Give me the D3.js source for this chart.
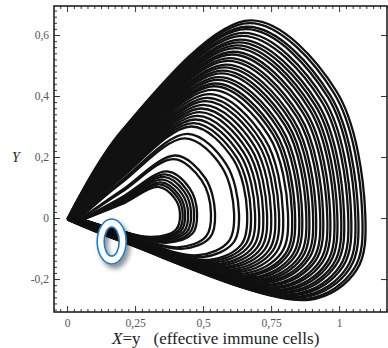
<!DOCTYPE html>
<meta charset="utf-8">
<script src="https://d3js.org/d3.v7.min.js"></script>
<style>
body { margin: 0; background: #fff; }
.axis text { font: 11.5px "Liberation Serif", "DejaVu Serif", serif; fill: #555; }
.axis path { display: none; }
.axis line { stroke: #333; }
.orbit { fill: none; stroke: #111; stroke-width: 2.3; }
</style>
<body>
<script>

// one row per loop of the trajectory (innermost first)
// tip of the loop near the origin
var loopTipX = [0.058,0.057,0.056,0.055,0.055,0.054,0.053,0.048,0.047,0.041,0.040,0.037,0.036,0.035,0.033,0.032,0.031,0.029,0.028,0.027,0.026,0.024,0.023,0.022,0.021,0.020,0.019,0.018,0.016,0.015,0.014,0.013,0.012,0.011,0.010,0.009,0.008,0.007,0.005,0.004,0.003,0.002,0.001,0.000];
// height where the rising branch crosses X = 0.2
var loopUpperY = [0.045,0.049,0.052,0.056,0.059,0.063,0.067,0.085,0.090,0.115,0.122,0.132,0.137,0.142,0.147,0.153,0.158,0.163,0.168,0.173,0.179,0.185,0.190,0.194,0.199,0.203,0.208,0.213,0.217,0.221,0.226,0.230,0.236,0.240,0.245,0.249,0.254,0.257,0.263,0.267,0.272,0.276,0.281,0.285];
// top of each loop
var loopPeakX = [0.335,0.340,0.345,0.350,0.355,0.361,0.367,0.392,0.399,0.434,0.443,0.458,0.465,0.473,0.480,0.488,0.495,0.502,0.510,0.517,0.524,0.533,0.541,0.546,0.554,0.559,0.567,0.572,0.579,0.585,0.592,0.597,0.605,0.611,0.618,0.624,0.630,0.636,0.643,0.649,0.657,0.662,0.670,0.675];
var loopPeakY = [0.102,0.110,0.117,0.126,0.135,0.143,0.153,0.193,0.205,0.261,0.276,0.300,0.311,0.323,0.335,0.347,0.359,0.371,0.383,0.394,0.406,0.420,0.432,0.441,0.453,0.462,0.474,0.483,0.494,0.503,0.515,0.524,0.536,0.545,0.557,0.566,0.576,0.585,0.597,0.607,0.619,0.627,0.639,0.648];
// right-most point (crossing near Y = 0.015)
var loopRightX = [0.415,0.425,0.434,0.445,0.456,0.467,0.478,0.529,0.544,0.614,0.632,0.662,0.676,0.691,0.706,0.721,0.735,0.750,0.765,0.779,0.794,0.812,0.827,0.838,0.853,0.864,0.879,0.890,0.904,0.915,0.930,0.941,0.956,0.967,0.982,0.993,1.007,1.018,1.033,1.044,1.059,1.070,1.085,1.096];
// bottom of each loop
var loopLowX = [0.310,0.319,0.326,0.336,0.345,0.354,0.364,0.407,0.420,0.479,0.495,0.521,0.532,0.545,0.558,0.570,0.583,0.595,0.608,0.620,0.633,0.648,0.661,0.670,0.683,0.692,0.705,0.715,0.726,0.736,0.748,0.758,0.771,0.780,0.793,0.802,0.814,0.823,0.836,0.846,0.859,0.868,0.881,0.890];
var loopLowY = [-0.062,-0.065,-0.068,-0.071,-0.074,-0.078,-0.081,-0.096,-0.101,-0.122,-0.128,-0.137,-0.141,-0.145,-0.150,-0.154,-0.159,-0.163,-0.168,-0.172,-0.177,-0.182,-0.187,-0.190,-0.194,-0.198,-0.202,-0.206,-0.210,-0.213,-0.218,-0.221,-0.226,-0.229,-0.234,-0.237,-0.241,-0.244,-0.249,-0.252,-0.257,-0.260,-0.265,-0.268];
// height where the returning branch crosses X = 0.2
var loopLowerY = [-0.043,-0.044,-0.044,-0.044,-0.045,-0.046,-0.046,-0.049,-0.049,-0.053,-0.054,-0.055,-0.056,-0.057,-0.058,-0.058,-0.059,-0.060,-0.060,-0.061,-0.062,-0.063,-0.064,-0.064,-0.065,-0.065,-0.066,-0.067,-0.067,-0.068,-0.069,-0.069,-0.070,-0.071,-0.071,-0.072,-0.073,-0.073,-0.074,-0.074,-0.075,-0.076,-0.076,-0.077];

var xTicks = [0, 0.25, 0.5, 0.75, 1];
var xTickLabels = ["0", "0,25", "0,5", "0,75", "1"];
var yTicks = [-0.2, 0, 0.2, 0.4, 0.6];
var yTickLabels = ["-0,2", "0", "0,2", "0,4", "0,6"];

// highlighted spot (blue ring)
var markX = [0.164];
var markY = [-0.077];

var width = 388, height = 348;
var frameL = 54, frameR = 387, frameT = 6, frameB = 312;

var x = d3.scaleLinear().domain([-0.048, 1.176]).range([frameL, frameR]);
var y = d3.scaleLinear().domain([-0.308, 0.695]).range([frameB, frameT]);

var svg = d3.select("body").append("svg")
    .attr("width", width)
    .attr("height", height);

var defs = svg.append("defs");
defs.append("clipPath").attr("id", "frame")
  .append("rect")
    .attr("x", frameL).attr("y", frameT)
    .attr("width", frameR - frameL).attr("height", frameB - frameT);
var shadow = defs.append("filter").attr("id", "shadow")
    .attr("x", "-60%").attr("y", "-60%").attr("width", "220%").attr("height", "220%");
shadow.append("feDropShadow")
    .attr("dx", 3).attr("dy", 4).attr("stdDeviation", 2.5)
    .attr("flood-color", "#000").attr("flood-opacity", 0.45);

// trajectory loops
var cutX = 0.2, tipY = -0.005, rightY = 0.015;
var line = d3.line()
    .x(function(d) { return x(d[0]); })
    .y(function(d) { return y(d[1]); })
    .curve(d3.curveCatmullRom.alpha(0.5));

var loops = loopRightX.map(function(r, i) {
  var px = loopPeakX[i], py = loopPeakY[i], lx = loopLowX[i], ly = loopLowY[i];
  return [
    [loopTipX[i], tipY],
    [cutX, loopUpperY[i]],
    [px, py],
    [px + 0.75 * (r - px), 0.64 * py],
    [r, rightY],
    [lx + 0.85 * (r - lx), 0.63 * ly],
    [lx, ly],
    [cutX, loopLowerY[i]],
    [loopTipX[i], tipY]
  ];
});

svg.append("g")
    .attr("clip-path", "url(#frame)")
  .selectAll("path")
  .data(loops)
  .enter().append("path")
    .attr("class", "orbit")
    .attr("d", line);

// axes, ticks pointing inward on all sides
var xMinor = d3.range(-0.025, 1.176, 0.025).filter(function(v) { return Math.abs(v * 4 - Math.round(v * 4)) > 1e-6; });
var yMinor = d3.range(-0.3, 0.695, 0.02).filter(function(v) { return Math.abs(v * 5 - Math.round(v * 5)) > 1e-6; });

svg.append("g").attr("class", "axis")
    .attr("transform", "translate(0," + frameB + ")")
    .call(d3.axisBottom(x).tickValues(xMinor).tickSize(-3).tickFormat(""));
svg.append("g").attr("class", "axis")
    .attr("transform", "translate(0," + frameB + ")")
    .call(d3.axisBottom(x).tickValues(xTicks).tickSize(-6).tickPadding(7)
      .tickFormat(function(d, i) { return xTickLabels[i]; }));
svg.append("g").attr("class", "axis")
    .attr("transform", "translate(0," + frameT + ")")
    .call(d3.axisTop(x).tickValues(xMinor).tickSize(-3).tickFormat(""));
svg.append("g").attr("class", "axis")
    .attr("transform", "translate(0," + frameT + ")")
    .call(d3.axisTop(x).tickValues(xTicks).tickSize(-6).tickFormat(""));

svg.append("g").attr("class", "axis")
    .attr("transform", "translate(" + frameL + ",0)")
    .call(d3.axisLeft(y).tickValues(yMinor).tickSize(-3).tickFormat(""));
svg.append("g").attr("class", "axis")
    .attr("transform", "translate(" + frameL + ",0)")
    .call(d3.axisLeft(y).tickValues(yTicks).tickSize(-6).tickPadding(5)
      .tickFormat(function(d, i) { return yTickLabels[i]; }));
svg.append("g").attr("class", "axis")
    .attr("transform", "translate(" + frameR + ",0)")
    .call(d3.axisRight(y).tickValues(yTicks).tickSize(-6).tickFormat(""));

svg.append("rect")
    .attr("x", frameL).attr("y", frameT)
    .attr("width", frameR - frameL).attr("height", frameB - frameT)
    .attr("fill", "none")
    .attr("stroke", "#222")
    .attr("stroke-width", 1.6);

// blue ring highlight
function ellipse(cx, cy, rx, ry) {
  return "M" + (cx - rx) + "," + cy +
    "a" + rx + "," + ry + " 0 1,0 " + (2 * rx) + ",0" +
    "a" + rx + "," + ry + " 0 1,0 " + (-2 * rx) + ",0Z";
}
svg.append("g").selectAll("path")
  .data(markX)
  .enter().append("path")
    .attr("d", function(d, i) {
      var cx = x(d), cy = y(markY[i]);
      return ellipse(cx, cy, 14.5, 22.5) + ellipse(cx, cy, 7.5, 14.5);
    })
    .attr("fill", "#fff")
    .attr("fill-rule", "evenodd")
    .attr("stroke", "#1f7ad0")
    .attr("stroke-width", 1.6)
    .attr("filter", "url(#shadow)");

// axis titles
svg.append("text")
    .attr("x", 16).attr("y", 162)
    .attr("text-anchor", "middle")
    .style("font", "italic 14px 'Liberation Serif', serif")
    .attr("fill", "#222")
    .text("Y");

var title = svg.append("text")
    .attr("x", 112).attr("y", 344)
    .style("font", "17px 'Liberation Serif', serif")
    .attr("fill", "#222");
title.append("tspan").style("font-style", "italic").text("X");
title.append("tspan").text("=y");
title.append("tspan").attr("dx", 13).text("(effective immune cells)");

</script>
</body>
